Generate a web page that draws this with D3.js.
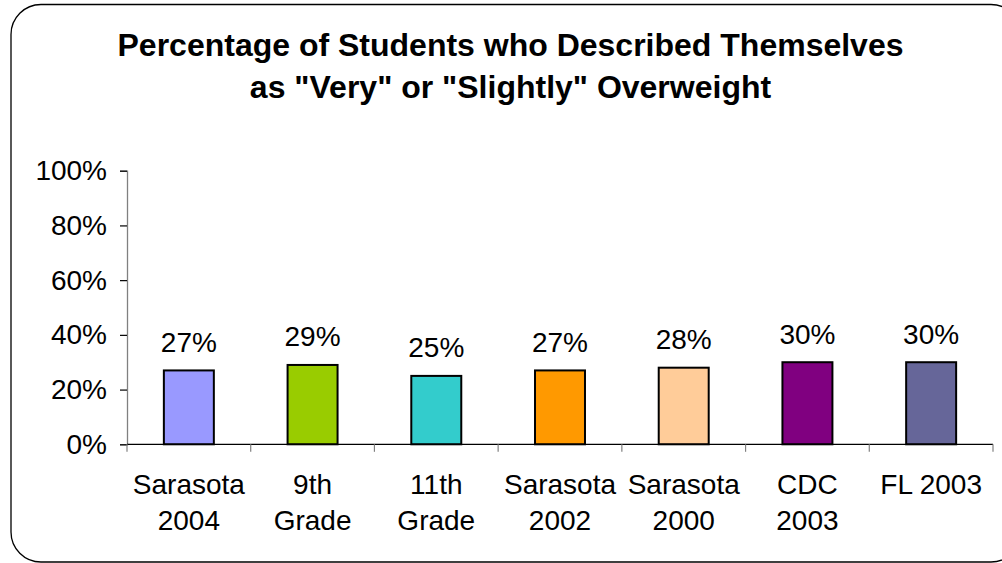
<!DOCTYPE html>
<html>
<head>
<meta charset="utf-8">
<script src="https://cdn.jsdelivr.net/npm/d3@7"></script>
<style>
  html, body { margin: 0; padding: 0; background: #fff; }
  svg { display: block; font-family: Arial, "Liberation Sans", Helvetica, sans-serif; }
</style>
</head>
<body>
<svg id="chart" width="1002" height="563"></svg>
<script>
// Survey groups and the share of students in each who described themselves as overweight
const categories = ["Sarasota 2004", "9th Grade", "11th Grade", "Sarasota 2002", "Sarasota 2000", "CDC 2003", "FL 2003"];
const values = [0.27, 0.29, 0.25, 0.27, 0.28, 0.30, 0.30];
const barColors = ["#9999FF", "#99CC00", "#33CCCC", "#FF9900", "#FFCC99", "#800080", "#666699"];
const yTicks = [0, 0.2, 0.4, 0.6, 0.8, 1.0];
const titleLines = ["Percentage of Students who Described Themselves", "as \"Very\" or \"Slightly\" Overweight"];

const svg = d3.select("#chart");

// Outer rounded frame
svg.append("rect")
  .attr("x", 11).attr("y", 4.5)
  .attr("width", 1010).attr("height", 557.5)
  .attr("rx", 30).attr("ry", 30)
  .attr("fill", "#fff")
  .attr("stroke", "#000").attr("stroke-width", 1.3);

// Title
svg.append("g").selectAll("text")
  .data(titleLines)
  .join("text")
  .attr("x", 510.5)
  .attr("y", (d, i) => 56 + i * 41.5)
  .attr("text-anchor", "middle")
  .attr("font-size", 32)
  .attr("font-weight", "bold")
  .text(d => d);

const plot = { left: 127, right: 993, top: 170.7, bottom: 444.3 };

const x = d3.scaleBand()
  .domain(categories)
  .range([plot.left, plot.right])
  .paddingInner(0.596)
  .paddingOuter(0.298);

const y = d3.scaleLinear()
  .domain([0, 1])
  .range([plot.bottom, plot.top]);

// Y axis
const yAxis = svg.append("g")
  .attr("transform", `translate(${plot.left},0)`)
  .call(d3.axisLeft(y).tickValues(yTicks).tickFormat(d3.format(".0%")).tickSize(7).tickPadding(13));
yAxis.select(".domain").attr("stroke", "#808080").attr("stroke-width", 1.3);
yAxis.selectAll(".tick line").attr("stroke", "#000").attr("stroke-width", 1.2);
yAxis.selectAll(".tick text")
  .attr("font-size", 28).attr("fill", "#000")
  .attr("font-family", "Arial, 'Liberation Sans', sans-serif");

// Bars
svg.append("g").selectAll("rect")
  .data(categories)
  .join("rect")
  .attr("x", d => x(d))
  .attr("y", (d, i) => y(values[i]))
  .attr("width", x.bandwidth())
  .attr("height", (d, i) => y(0) - y(values[i]))
  .attr("fill", (d, i) => barColors[i])
  .attr("stroke", "#000")
  .attr("stroke-width", 2);

// Value labels
svg.append("g").selectAll("text")
  .data(categories)
  .join("text")
  .attr("x", d => x(d) + x.bandwidth() / 2)
  .attr("y", (d, i) => y(values[i]) - 18.6)
  .attr("text-anchor", "middle")
  .attr("font-size", 28)
  .text((d, i) => d3.format(".0%")(values[i]));

// X axis: boundary ticks between categories
const step = x.step();
const boundaries = d3.range(categories.length + 1).map(i => plot.left + i * step);
const xAxisG = svg.append("g");
xAxisG.append("line")
  .attr("x1", plot.left).attr("x2", plot.right)
  .attr("y1", plot.bottom).attr("y2", plot.bottom)
  .attr("stroke", "#000").attr("stroke-width", 1.3);
xAxisG.selectAll("line.tk")
  .data(boundaries)
  .join("line")
  .attr("class", "tk")
  .attr("x1", d => d).attr("x2", d => d)
  .attr("y1", plot.bottom).attr("y2", plot.bottom + 7.5)
  .attr("stroke", "#808080").attr("stroke-width", 1.2);

// Category labels, wrapped to fit each slot
const ctx = document.createElement("canvas").getContext("2d");
ctx.font = "28px Arial, 'Liberation Sans', sans-serif";
function wrap(label, maxW) {
  const words = label.split(" ");
  const lines = [];
  let cur = "";
  words.forEach(w => {
    const test = cur ? cur + " " + w : w;
    if (ctx.measureText(test).width > maxW && cur) { lines.push(cur); cur = w; }
    else cur = test;
  });
  if (cur) lines.push(cur);
  return lines;
}
const catG = svg.append("g").selectAll("text")
  .data(categories)
  .join("text")
  .attr("text-anchor", "middle")
  .attr("font-size", 28);
catG.each(function(d) {
  const cx = x(d) + x.bandwidth() / 2;
  d3.select(this).selectAll("tspan")
    .data(wrap(d, 120))
    .join("tspan")
    .attr("x", cx)
    .attr("y", (l, i) => plot.bottom + 50 + i * 36)
    .text(l => l);
});
</script>
</body>
</html>
